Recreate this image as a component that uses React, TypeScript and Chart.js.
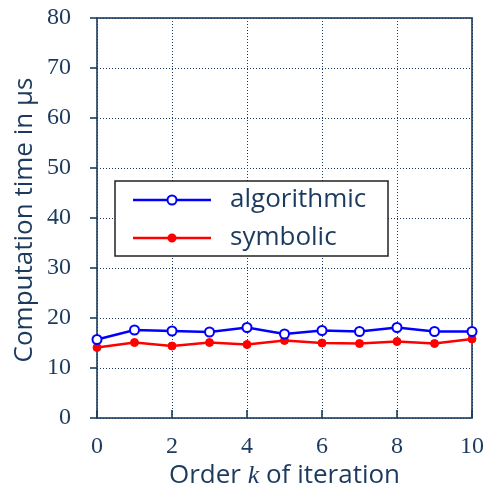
import React, { useEffect, useRef } from "react";
import { Chart, registerables } from "chart.js";

Chart.register(...registerables);

const orders = [0, 1, 2, 3, 4, 5, 6, 7, 8, 9, 10];
const algorithmic = [15.7, 17.6, 17.4, 17.2, 18.1, 16.8, 17.5, 17.3, 18.1, 17.3, 17.3];
const symbolic = [14.1, 15.1, 14.4, 15.1, 14.7, 15.5, 15.0, 14.9, 15.3, 14.9, 15.8];
const seriesNames = ["algorithmic", "symbolic"];
const yTicks = [0, 10, 20, 30, 40, 50, 60, 70, 80];
const xTicks = [0, 2, 4, 6, 8, 10];

const NAVY = "#1b3a5e";
const SANS = "'Open Sans'";
const SERIF = "'Liberation Serif'";

const framePlugin = {
  id: "frame",
  beforeDatasetsDraw(chart: any) {
    const { ctx, chartArea: a, scales } = chart;
    ctx.save();
    ctx.strokeStyle = NAVY;
    ctx.lineWidth = 1.6;
    yTicks.forEach((v) => {
      const y = scales.y.getPixelForValue(v);
      ctx.beginPath();
      ctx.moveTo(a.left - 7, y);
      ctx.lineTo(a.left, y);
      ctx.stroke();
    });
    xTicks.forEach((v) => {
      const x = scales.x.getPixelForValue(v);
      ctx.beginPath();
      ctx.moveTo(x, a.bottom);
      ctx.lineTo(x, a.bottom - 8);
      ctx.stroke();
    });
    ctx.strokeRect(a.left, a.top, a.right - a.left, a.bottom - a.top);
    ctx.restore();
  },
  afterDraw(chart: any) {
    const { ctx, chartArea: a } = chart;
    ctx.save();
    const bx = 115, by = 181, bw = 273, bh = 75;
    ctx.fillStyle = "#ffffff";
    ctx.fillRect(bx, by, bw, bh);
    ctx.strokeStyle = "#222222";
    ctx.lineWidth = 1.5;
    ctx.strokeRect(bx, by, bw, bh);
    const rows = [
      { y: 200, color: "#0000ff", open: true, name: seriesNames[0] },
      { y: 238, color: "#ff0000", open: false, name: seriesNames[1] },
    ];
    rows.forEach((r) => {
      ctx.strokeStyle = r.color;
      ctx.lineWidth = 2.5;
      ctx.beginPath();
      ctx.moveTo(133, r.y);
      ctx.lineTo(211, r.y);
      ctx.stroke();
      ctx.beginPath();
      ctx.arc(172, r.y, r.open ? 4.5 : 3.5, 0, Math.PI * 2);
      ctx.fillStyle = r.open ? "#ffffff" : r.color;
      ctx.fill();
      ctx.lineWidth = 2;
      ctx.stroke();
      ctx.fillStyle = NAVY;
      ctx.font = `26px ${SANS}`;
      ctx.textAlign = "left";
      ctx.textBaseline = "middle";
      ctx.fillText(r.name, 230, r.y);
    });
    const parts = [
      { t: "Order ", f: `26px ${SANS}` },
      { t: "k", f: `italic 26px ${SERIF}` },
      { t: " of iteration", f: `26px ${SANS}` },
    ];
    let total = 0;
    parts.forEach((p) => {
      ctx.font = p.f;
      total += ctx.measureText(p.t).width;
    });
    let x = (a.left + a.right) / 2 - total / 2;
    ctx.fillStyle = NAVY;
    ctx.textBaseline = "alphabetic";
    ctx.textAlign = "left";
    parts.forEach((p) => {
      ctx.font = p.f;
      ctx.fillText(p.t, x, 483);
      x += ctx.measureText(p.t).width;
    });
    ctx.translate(32, (a.top + a.bottom) / 2 + 2);
    ctx.rotate(-Math.PI / 2);
    ctx.font = `26px ${SANS}`;
    ctx.textAlign = "center";
    ctx.fillText("Computation time in \u03bcs", 0, 0);
    ctx.restore();
  },
};

export default function App() {
  const ref = useRef<HTMLCanvasElement>(null);
  useEffect(() => {
    document.body.style.margin = "0";
    const chart = new Chart(ref.current as HTMLCanvasElement, {
      type: "line",
      data: {
        datasets: [
          {
            label: seriesNames[0],
            data: orders.map((k, i) => ({ x: k, y: algorithmic[i] })),
            borderColor: "#0000ff",
            backgroundColor: "#ffffff",
            borderWidth: 2.5,
            pointRadius: 4.5,
            pointBorderWidth: 2,
            pointBackgroundColor: "#ffffff",
            pointBorderColor: "#0000ff",
            clip: false,
          } as any,
          {
            label: seriesNames[1],
            data: orders.map((k, i) => ({ x: k, y: symbolic[i] })),
            borderColor: "#ff0000",
            backgroundColor: "#ff0000",
            borderWidth: 2.5,
            pointRadius: 4,
            pointBorderWidth: 1,
            pointBackgroundColor: "#ff0000",
            pointBorderColor: "#ff0000",
            clip: false,
          } as any,
        ],
      },
      options: {
        responsive: false,
        animation: false,
        layout: { padding: { top: 18, right: 15, left: 0, bottom: 0 } },
        plugins: { legend: { display: false }, tooltip: { enabled: false } },
        scales: {
          x: {
            type: "linear",
            min: 0,
            max: 10,
            afterFit: (s: any) => {
              s.height = 68;
              s.paddingLeft = 0;
              s.paddingRight = 0;
              s.paddingTop = 0;
              s.paddingBottom = 0;
            },
            afterBuildTicks: (s: any) => {
              s.ticks = xTicks.map((v) => ({ value: v }));
            },
            border: { display: false, dash: [1, 2] },
            grid: {
              color: NAVY,
              lineWidth: 1,
              drawTicks: false,
            },
            ticks: {
              color: NAVY,
              font: { family: "Liberation Serif", size: 24 },
              padding: 14,
              maxRotation: 0,
            },
          },
          y: {
            type: "linear",
            min: 0,
            max: 80,
            afterFit: (s: any) => {
              s.width = 97;
              s.paddingLeft = 0;
              s.paddingRight = 0;
              s.paddingTop = 0;
              s.paddingBottom = 0;
            },
            afterBuildTicks: (s: any) => {
              s.ticks = yTicks.map((v) => ({ value: v }));
            },
            border: { display: false, dash: [1, 2] },
            grid: {
              color: NAVY,
              lineWidth: 1,
              drawTicks: false,
            },
            ticks: {
              color: NAVY,
              font: { family: "Liberation Serif", size: 24 },
              padding: 26,
            },
          },
        },
      },
      plugins: [framePlugin],
    });
    return () => chart.destroy();
  }, []);
  return <canvas ref={ref} width={487} height={486} style={{ display: "block" }} />;
}
